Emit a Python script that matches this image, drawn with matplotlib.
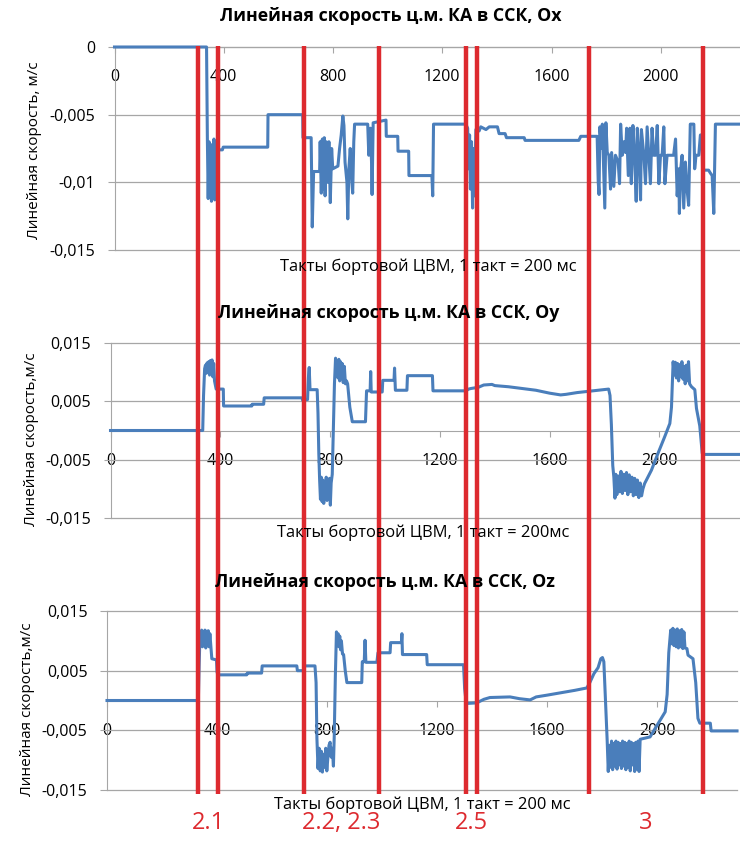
import matplotlib
matplotlib.use("Agg")
import matplotlib.pyplot as plt

# Линейная скорость ц.м. КА в ССК (м/с) по тактам бортовой ЦВМ
ox_t = [0, 337, 340, 343, 346, 349, 352, 355, 358, 361,
        364, 367, 370, 373, 376, 395, 398, 561, 562, 689,
        690, 720, 724, 729, 751, 753, 757, 761, 764, 768,
        771, 775, 780, 785, 790, 795, 799, 818, 824, 830,
        836, 840, 844, 851, 854, 858, 863, 869, 872, 876,
        879, 927, 931, 937, 941, 943, 947, 994, 995, 1037,
        1038, 1077, 1078, 1162, 1165, 1168, 1286, 1293, 1296, 1300,
        1303, 1307, 1311, 1314, 1318, 1323, 1335, 1341, 1360, 1372,
        1402, 1408, 1430, 1435, 1500, 1503, 1700, 1707, 1767, 1771,
        1774, 1777, 1783, 1786, 1791, 1795, 1799, 1804, 1810, 1816,
        1820, 1828, 1834, 1844, 1849, 1853, 1859, 1865, 1871, 1875,
        1881, 1887, 1892, 1898, 1904, 1910, 1914, 1920, 1926, 1929,
        1938, 1944, 1950, 1956, 1962, 1968, 1974, 1981, 1987, 1993,
        1999, 2005, 2011, 2015, 2023, 2047, 2054, 2060, 2066, 2068,
        2073, 2078, 2084, 2090, 2096, 2102, 2108, 2121, 2124, 2129,
        2139, 2145, 2151, 2153, 2175, 2181, 2188, 2194, 2200, 2285]
ox_v = [0, 0, -0.0068, -0.0112, -0.0070, -0.0110, -0.0072, -0.0114, -0.0075, -0.0108,
        -0.0068, -0.0113, -0.0070, -0.0100, -0.0076, -0.0076, -0.0074, -0.0074, -0.0050, -0.0050,
        -0.0067, -0.0067, -0.0133, -0.0092, -0.0092, -0.0070, -0.0108, -0.0068, -0.0105, -0.0067,
        -0.0110, -0.0070, -0.0100, -0.0070, -0.0115, -0.0075, -0.0090, -0.0088, -0.0075, -0.0065,
        -0.0051, -0.0058, -0.0085, -0.0100, -0.0127, -0.0090, -0.0075, -0.0100, -0.0108, -0.0070,
        -0.0057, -0.0057, -0.0080, -0.0060, -0.0085, -0.0109, -0.0056, -0.0054, -0.0066, -0.0066,
        -0.0077, -0.0077, -0.0095, -0.0095, -0.0110, -0.0057, -0.0057, -0.0060, -0.0090, -0.0065,
        -0.0105, -0.0070, -0.0119, -0.0075, -0.0110, -0.0061, -0.0062, -0.0059, -0.0061, -0.0059,
        -0.0059, -0.0064, -0.0064, -0.0067, -0.0067, -0.0069, -0.0069, -0.0066, -0.0066, -0.0100,
        -0.0109, -0.0059, -0.0075, -0.0057, -0.0090, -0.0119, -0.0056, -0.0078, -0.0080, -0.0105,
        -0.0078, -0.0103, -0.0080, -0.0085, -0.0101, -0.0057, -0.0080, -0.0070, -0.0078, -0.0060,
        -0.0095, -0.0060, -0.0101, -0.0058, -0.0080, -0.0114, -0.0060, -0.0080, -0.0113, -0.0061,
        -0.0080, -0.0101, -0.0059, -0.0080, -0.0101, -0.0060, -0.0080, -0.0080, -0.0058, -0.0101,
        -0.0080, -0.0080, -0.0059, -0.0101, -0.0080, -0.0080, -0.0068, -0.0110, -0.0090, -0.0123,
        -0.0090, -0.0080, -0.0119, -0.0085, -0.0105, -0.0117, -0.0057, -0.0057, -0.0090, -0.0080,
        -0.0080, -0.0065, -0.0065, -0.0091, -0.0091, -0.0093, -0.0095, -0.0123, -0.0057, -0.0057]

oy_t = [0, 336, 339, 343, 346, 349, 352, 355, 358, 361,
        364, 367, 370, 373, 376, 379, 382, 385, 411, 412,
        515, 516, 558, 560, 698, 700, 718, 721, 724, 727,
        753, 756, 759, 762, 765, 768, 771, 774, 777, 780,
        783, 786, 789, 792, 795, 798, 801, 804, 808, 812,
        816, 820, 823, 826, 829, 832, 835, 838, 841, 844,
        848, 852, 856, 860, 864, 872, 881, 929, 933, 946,
        948, 950, 990, 992, 1033, 1035, 1038, 1080, 1082, 1173,
        1175, 1295, 1305, 1313, 1340, 1360, 1390, 1400, 1450, 1500,
        1550, 1600, 1640, 1660, 1700, 1739, 1780, 1815, 1820, 1825,
        1830, 1834, 1838, 1841, 1845, 1850, 1855, 1860, 1865, 1870,
        1875, 1880, 1885, 1890, 1895, 1900, 1905, 1910, 1915, 1920,
        1925, 1930, 1935, 1940, 1946, 1971, 1995, 2019, 2038, 2044,
        2050, 2054, 2058, 2062, 2066, 2070, 2074, 2078, 2082, 2086,
        2090, 2094, 2098, 2102, 2106, 2110, 2117, 2129, 2135, 2147,
        2156, 2160, 2290]
oy_v = [0, 0, 0.0060, 0.0106, 0.0112, 0.0098, 0.0116, 0.0100, 0.0118, 0.0095,
        0.0120, 0.0098, 0.0121, 0.0092, 0.0115, 0.0085, 0.0078, 0.0071, 0.0071, 0.0042,
        0.0042, 0.0045, 0.0045, 0.0056, 0.0056, 0.0052, 0.0053, 0.0090, 0.0108, 0.0070,
        0.0070, 0.0030, -0.0040, -0.0085, -0.0118, -0.0080, -0.0122, -0.0085, -0.0125, -0.0088,
        -0.0115, -0.0080, -0.0120, -0.0090, -0.0110, -0.0082, -0.0128, -0.0090, -0.0075, 0.0000,
        0.0080, 0.0124, 0.0095, 0.0120, 0.0090, 0.0122, 0.0085, 0.0118, 0.0090, 0.0115,
        0.0082, 0.0110, 0.0080, 0.0085, 0.0080, 0.0040, 0.0015, 0.0015, 0.0068, 0.0068,
        0.0101, 0.0066, 0.0066, 0.0086, 0.0086, 0.0107, 0.0069, 0.0069, 0.0094, 0.0094,
        0.0068, 0.0068, 0.0071, 0.0072, 0.0074, 0.0078, 0.0079, 0.0077, 0.0075, 0.0072,
        0.0069, 0.0064, 0.0061, 0.0062, 0.0065, 0.0067, 0.0069, 0.0071, 0.0060, 0.0010,
        -0.0060, -0.0080, -0.0116, -0.0075, -0.0110, -0.0078, -0.0105, -0.0070, -0.0108, -0.0075,
        -0.0103, -0.0072, -0.0110, -0.0076, -0.0105, -0.0080, -0.0112, -0.0082, -0.0110, -0.0085,
        -0.0115, -0.0090, -0.0112, -0.0100, -0.0091, -0.0068, -0.0039, -0.0011, 0.0012, 0.0040,
        0.0118, 0.0095, 0.0117, 0.0090, 0.0115, 0.0085, 0.0113, 0.0092, 0.0118, 0.0088,
        0.0110, 0.0080, 0.0112, 0.0085, 0.0118, 0.0080, 0.0075, 0.0070, 0.0038, 0.0008,
        -0.0039, -0.0041, -0.0041]

oz_t = [0, 332, 335, 338, 341, 344, 347, 350, 353, 356,
        359, 362, 365, 368, 371, 374, 378, 381, 398, 400,
        403, 508, 510, 562, 564, 690, 692, 714, 716, 756,
        760, 763, 767, 771, 775, 779, 783, 787, 791, 795,
        799, 803, 807, 811, 815, 819, 823, 826, 830, 834,
        837, 840, 843, 846, 849, 852, 856, 860, 866, 872,
        926, 928, 935, 938, 941, 981, 985, 1029, 1031, 1070,
        1072, 1074, 1162, 1164, 1296, 1300, 1306, 1344, 1370, 1392,
        1465, 1500, 1538, 1560, 1600, 1650, 1700, 1744, 1755, 1770,
        1785, 1795, 1801, 1806, 1812, 1818, 1822, 1826, 1830, 1834,
        1838, 1842, 1846, 1850, 1854, 1858, 1862, 1866, 1870, 1874,
        1878, 1882, 1886, 1890, 1894, 1898, 1902, 1906, 1910, 1914,
        1918, 1922, 1926, 1930, 1934, 1938, 1974, 1995, 2015, 2029,
        2036, 2042, 2049, 2053, 2057, 2061, 2065, 2069, 2073, 2077,
        2081, 2085, 2089, 2093, 2097, 2101, 2108, 2112, 2130, 2140,
        2148, 2155, 2193, 2196, 2290]
oz_v = [0, 0, 0.0060, 0.0110, 0.0095, 0.0118, 0.0090, 0.0115, 0.0092, 0.0118,
        0.0088, 0.0116, 0.0095, 0.0117, 0.0090, 0.0112, 0.0087, 0.0070, 0.0068, 0.0048,
        0.0043, 0.0043, 0.0046, 0.0046, 0.0058, 0.0058, 0.0050, 0.0050, 0.0058, 0.0058,
        0.0030, -0.0063, -0.0114, -0.0080, -0.0118, -0.0085, -0.0120, -0.0090, -0.0112, -0.0080,
        -0.0118, -0.0095, -0.0075, -0.0070, -0.0095, -0.0080, -0.0110, -0.0060, 0.0040, 0.0115,
        0.0095, 0.0112, 0.0090, 0.0108, 0.0085, 0.0100, 0.0078, 0.0077, 0.0050, 0.0030,
        0.0030, 0.0065, 0.0065, 0.0101, 0.0064, 0.0064, 0.0080, 0.0080, 0.0097, 0.0097,
        0.0112, 0.0077, 0.0077, 0.0060, 0.0060, 0.0020, -0.0005, -0.0004, 0.0002, 0.0005,
        0.0006, 0.0003, 0.0001, 0.0006, 0.0009, 0.0013, 0.0017, 0.0021, 0.0030, 0.0045,
        0.0055, 0.0070, 0.0072, 0.0065, 0.0000, -0.0066, -0.0119, -0.0075, -0.0112, -0.0068,
        -0.0116, -0.0072, -0.0110, -0.0068, -0.0115, -0.0070, -0.0108, -0.0072, -0.0114, -0.0068,
        -0.0110, -0.0070, -0.0116, -0.0072, -0.0112, -0.0068, -0.0118, -0.0070, -0.0108, -0.0072,
        -0.0119, -0.0070, -0.0115, -0.0068, -0.0119, -0.0065, -0.0061, -0.0045, -0.0030, -0.0019,
        0.0010, 0.0080, 0.0118, 0.0095, 0.0121, 0.0092, 0.0118, 0.0090, 0.0120, 0.0088,
        0.0117, 0.0090, 0.0119, 0.0087, 0.0115, 0.0088, 0.0087, 0.0076, 0.0070, 0.0030,
        -0.0030, -0.0038, -0.0038, -0.0051, -0.0051]

x_ticks = [0, 400, 800, 1200, 1600, 2000]
ox_yticks = [0, -0.005, -0.01, -0.015]
ox_ylabels = ["0", "-0,005", "-0,01", "-0,015"]
yz_yticks = [0.015, 0.005, -0.005, -0.015]
yz_ylabels = ["0,015", "0,005", "-0,005", "-0,015"]

# границы этапов (такты) и их номера
stage_t = [306, 379, 694, 968, 1287, 1327, 1737, 2154]
stage_names = ["2.1", "2.2, 2.3", "2.5", "3"]

T_MAX = 2290
W, H = 740, 841
BLUE = "#4a7ebb"
RED = "#dd2a2f"
GRID = "#a6a6a6"

plt.rcParams["font.family"] = ["Open Sans", "DejaVu Sans"]


def rect(left, top, right, bottom):
    return [left / W, 1 - bottom / H, (right - left) / W, (bottom - top) / H]


def draw_panel(fig, box, t, v, yticks, ylabels, title, ylabel, xlabel,
               title_xy, ylabel_xy, xlabel_xy):
    ax = fig.add_axes(rect(*box))
    ax.plot(t, v, color=BLUE, lw=2.2, solid_joinstyle="round", clip_on=False, zorder=3)
    ax.set_xlim(0, T_MAX)
    ax.set_ylim(min(yticks), max(yticks))
    ax.set_yticks(yticks)
    ax.set_yticklabels(ylabels)
    ax.set_xticks(x_ticks)
    ax.set_xticklabels([str(x) for x in x_ticks])
    ax.set_axisbelow(True)
    ax.grid(axis="y", color=GRID, lw=0.9)
    ax.grid(axis="x", visible=False)
    for line in ax.get_ygridlines():
        line.set_clip_on(False)
    ax.patch.set_alpha(0)
    for s in ["top", "right"]:
        ax.spines[s].set_visible(False)
    ax.spines["bottom"].set_position(("data", 0))
    ax.spines["bottom"].set_color(GRID)
    ax.spines["left"].set_color(GRID)
    ax.tick_params(axis="x", direction="out", length=4, color=GRID, pad=12, labelsize=11.5)
    ax.tick_params(axis="y", direction="out", length=5, color=GRID, pad=9, labelsize=11.5)
    fig.text(title_xy[0] / W, 1 - title_xy[1] / H, title, ha="center", va="center",
             fontsize=12.8, fontweight="bold")
    fig.text(ylabel_xy[0] / W, 1 - ylabel_xy[1] / H, ylabel,
             ha="center", va="center", rotation=90, fontsize=11)
    fig.text(xlabel_xy[0] / W, 1 - xlabel_xy[1] / H, xlabel, ha="center", va="center",
             fontsize=11.9)
    return ax


def main():
    assert len(ox_t) == len(ox_v) and len(oy_t) == len(oy_v) and len(oz_t) == len(oz_v)
    fig = plt.figure(figsize=(W / 100, H / 100), dpi=100)

    draw_panel(fig, (114.5, 47, 740, 250), ox_t, ox_v, ox_yticks, ox_ylabels,
               "Линейная скорость ц.м. КА в ССК, Ox",
               "Линейная скорость, м/с",
               "Такты бортовой ЦВМ, 1 такт = 200 мс",
               (391, 16), (35, 150), (428, 267))
    draw_panel(fig, (110.5, 343, 739, 518), oy_t, oy_v, yz_yticks, yz_ylabels,
               "Линейная скорость ц.м. КА в ССК, Oy",
               "Линейная скорость,м/с",
               "Такты бортовой ЦВМ, 1 такт = 200мс",
               (389, 313), (32, 439), (423, 533))
    draw_panel(fig, (107, 611, 737, 790), oz_t, oz_v, yz_yticks, yz_ylabels,
               "Линейная скорость ц.м. КА в ССК, Oz",
               "Линейная скорость,м/с",
               "Такты бортовой ЦВМ, 1 такт = 200 мс",
               (385, 582), (28, 709), (422, 805))

    # красные границы этапов поверх всех трёх графиков
    over = fig.add_axes(rect(114.5, 46, 740, 794))
    over.set_xlim(0, T_MAX)
    over.set_ylim(0, 1)
    over.axis("off")
    for t in stage_t:
        over.axvline(t, color=RED, lw=3.2, zorder=10)
    for i, name in enumerate(stage_names):
        mid = (stage_t[2 * i] + stage_t[2 * i + 1]) / 2
        over.text(mid, -0.039, name, color=RED, ha="center", va="center",
                  fontsize=17, clip_on=False)

    fig.savefig("out.png", dpi=100)
    plt.close(fig)


if __name__ == "__main__":
    main()
